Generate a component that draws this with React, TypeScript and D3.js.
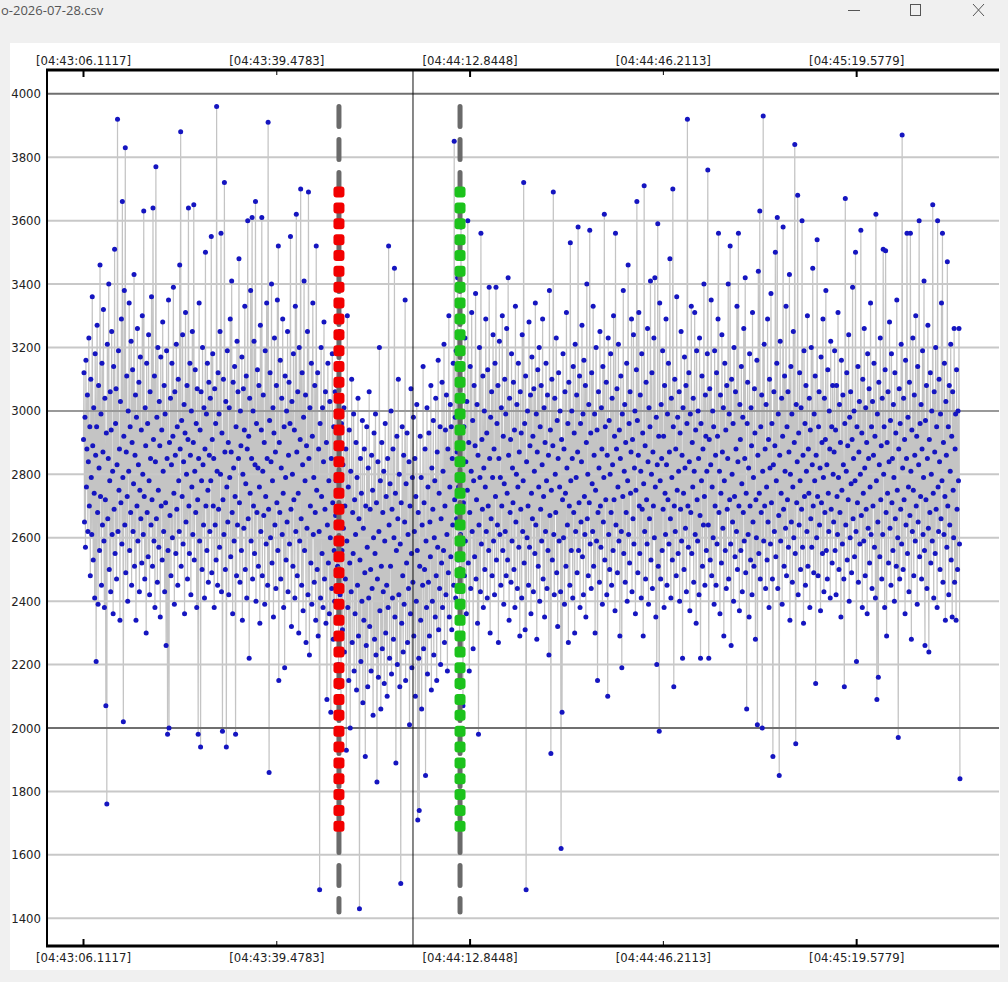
import React from 'react'
import * as d3 from 'd3'

// axis labels as shown on the plot
const tickTimes = ['04:43:06.1117', '04:43:39.4783', '04:44:12.8448', '04:44:46.2113', '04:45:19.5779']
const majorTick = [true, false, true, false, true]
const yTicks = [1400, 1600, 1800, 2000, 2200, 2400, 2600, 2800, 3000, 3200, 3400, 3600, 3800, 4000]

// visible window and sample times
const viewStart = '04:42:59.81'
const viewEnd = '04:45:44.15'
const dataStart = '04:43:06.1117'
const dataEnd = '04:45:37.41'
const redMarkerTime = '04:43:50.21'
const greenMarkerTime = '04:44:11.11'
const cursorTime = '04:44:02.99'
const markerLineTop = 3960
const markerLineBottom = 1420
const markerSquareTop = 3690
const markerSquareBottom = 1690
const markerSquareStep = 50

// samples, left of the red marker
const seg1a = [
  2910, 3120, 2650, 2980, 2570, 3160, 2760, 2880, 3050, 2620, 2840, 3230, 2700, 2950, 2480, 3100, 2790, 2610, 3360, 2890,
  2530, 3010, 2740, 2410, 3180, 2860, 2210, 2950, 3270, 2680, 2390, 3080, 2820, 2560, 3460, 2730, 2990, 2450, 3150, 2640,
  2870, 3320, 2590, 2380, 3040, 2720, 2070, 2930, 1760, 3210, 2660, 2850, 3400, 2500, 2780, 3060, 2430, 2940, 3250, 2610,
  2810, 2360, 3140, 2690, 3510, 2550, 2960, 3070, 2470, 2830, 3920, 2620, 3190, 2750, 2880, 2340, 3030, 2710, 3290, 2580,
  3660, 2790, 2020, 2920, 3380, 2640, 3830, 2490, 2870, 3110, 2730, 2400, 3000, 2810, 3340, 2560, 2950, 2680, 3220, 2450,
  2900, 3130, 2620, 2770, 3430, 2510, 2860, 3050, 2340, 2980, 2700, 3260, 2590, 2830, 3090, 2430, 2750, 3170, 2660, 2940,
  2520, 3300, 2800, 2610, 3630, 2730, 2470, 3010, 2890, 2300, 3150, 2680, 2960, 2540, 3240, 2780, 2420, 3060, 2850, 2640,
  3360, 2720, 2510, 3640, 2910, 2590, 3110, 2380, 2840, 3770, 2660, 2980, 2460, 3200, 2750, 2570, 3030, 2890, 2350, 3170,
  2700, 2940, 2530, 3280, 2810, 2620, 3080, 2430, 2990, 2710, 2260, 3190, 2850, 1980, 2560, 3350, 2000, 2900, 2670, 3040,
  2480, 2830, 3150, 2600, 2920, 3390, 2740, 2390, 3060, 2860, 2550, 3210, 2690, 2950, 2450, 3100, 2780, 2620, 3460, 2880,
  3880, 2510, 2970, 2730, 3240, 2580, 2840, 3020, 2360, 2930, 3310, 2650, 2800, 3080, 2470, 2910, 3640, 2700, 2550, 3150,
  2860, 2420, 3000, 2760, 3250, 2610, 2900, 3650, 2530, 2810, 3130, 2680, 2960, 2380, 3070, 2720, 1980, 2850, 3340, 2590,
  2940, 1940, 3060, 2780, 2500, 3200, 2830, 2640, 3010, 2410, 2880, 3500, 2700, 2990, 2560, 3150, 2750, 2460, 3090, 2860,
]
const seg1b = [
  2620, 3040, 2780, 3550, 2490, 2910, 3180, 2700, 2850, 2380, 3070, 2640, 2960, 2530, 3960, 2810, 2450, 3120, 2690, 2990,
  2570, 3250, 2800, 3560, 2430, 2930, 1990, 2720, 3100, 2610, 3720, 2870, 2500, 3030, 1940, 2760, 3190, 2650, 2900, 2420,
  3010, 2790, 3290, 2540, 2870, 3410, 2680, 2360, 3090, 2820, 2590, 3140, 2730, 1980, 2950, 2480, 3220, 2640, 3060, 2850,
  3480, 2710, 2460, 3000, 2890, 2560, 3170, 2340, 2800, 3070, 2630, 2940, 3330, 2500, 2770, 3110, 2410, 2880, 3600, 2660,
  2920, 2220, 3040, 2740, 3380, 2590, 2850, 3610, 2470, 3000, 2700, 3220, 2550, 2830, 3660, 2400, 2960, 2680, 3130, 2820,
  2510, 3080, 2760, 2330, 3270, 2620, 2940, 3610, 2480, 2810, 3050, 2670, 2900, 2390, 3190, 2730, 2580, 3340, 2850, 2450,
  3910, 2690, 1860, 2970, 3120, 2600, 2840, 3400, 2520, 2780, 3010, 2350, 2930, 3230, 2640, 2870, 2440, 3080, 2710, 3350,
  2560, 3520, 2150, 2900, 2680, 3160, 2470, 2820, 3040, 2610, 3290, 2740, 2380, 2950, 2190, 3110, 2790, 2530, 3000, 2650,
  3250, 2430, 2860, 3090, 2580, 2960, 3550, 2690, 2320, 3030, 2800, 2510, 3180, 2720, 2940, 2410, 3330, 2620, 3620, 2870,
  2480, 3060, 2740, 2300, 3200, 2590, 2910, 3700, 2660, 2450, 3120, 2830, 2370, 2980, 3410, 2560, 2780, 3050, 2270, 2890,
  2630, 3250, 2420, 3690, 2850, 2230, 3010, 2700, 2520, 3150, 2390, 2920, 3340, 2610, 2790, 2460, 3080, 2680, 2340, 3520,
  2750, 2500, 3120, 2290, 2880, 2620, 1490, 2960, 2410, 3200, 2730, 2550, 3010, 2380, 2840, 3280, 2470, 2690, 3060, 2330,
  2900, 2090, 2640, 3150, 2520, 2780, 2360, 3030, 2600, 2050, 2850, 2440, 3180, 2710, 2280, 2950, 2560, 2400, 3060, 2670,
]
// samples between the markers
const seg2 = [
  2780, 2350, 3080, 2510, 2890, 2200, 2650, 3250, 2420, 2740, 2090, 2960, 2560, 2310, 2830, 2630, 3010, 2240, 2700, 2470,
  2880, 1930, 2590, 3300, 2380, 2760, 2150, 2940, 2520, 2000, 2810, 2430, 3100, 2270, 2680, 2550, 2990, 2180, 2720, 2360,
  2610, 2900, 2120, 2790, 2450, 3040, 2290, 2660, 1430, 2530, 2850, 2210, 2740, 2400, 2970, 2080, 2630, 2340, 2880, 2490,
  1910, 2700, 2260, 2950, 2570, 2130, 2820, 2410, 3060, 2320, 2690, 2500, 2180, 2860, 2440, 2750, 2040, 2600, 2930, 2280,
  2550, 2990, 2230, 2710, 1830, 2470, 2840, 2160, 2620, 3200, 2370, 2780, 2060, 2510, 2900, 2250, 2680, 2430, 2810, 2140,
  2590, 2960, 2300, 2730, 2450, 2100, 2850, 2380, 3520, 2640, 2220, 2770, 2510, 3000, 2170, 2690, 2410, 2880, 2280, 2600,
  3450, 2350, 2740, 1890, 2560, 2920, 2200, 2660, 3100, 2420, 2800, 2130, 2580, 1510, 2710, 2330, 2950, 2480, 2240, 2860,
  2390, 2650, 3350, 2150, 2770, 2520, 2930, 2270, 2610, 2440, 2840, 2010, 2700, 2360, 3070, 2550, 2190, 2790, 2460, 2980,
  2290, 2620, 2850, 2100, 2730, 2400, 3020, 2560, 1710, 2680, 2220, 1740, 2510, 2920, 2340, 2790, 2060, 2640, 2450, 3140,
  2250, 2710, 2500, 2880, 1850, 2590, 2380, 3010, 2170, 2760, 2460, 2930, 2290, 2650, 2540, 3080, 2120, 2820, 2400, 2690,
  2970, 2230, 2600, 2780, 2350, 3040, 2480, 2150, 2870, 2570, 3160, 2310, 2740, 2440, 2950, 2200, 2660, 2520, 3090, 2380,
  2810, 2560, 3210, 2270, 2700, 2940, 2420, 3050, 2610, 2180, 2880, 2490, 3300, 2350, 2760, 3020, 2540, 2950, 2310, 2850,
  2640, 3150, 2450, 3850, 2720,
]
// samples right of the green marker
const seg3a = [
  2980, 2410, 3190, 2660, 2870, 3420, 2530, 2760, 3050, 2290, 2940, 2610, 3580, 2400, 2830, 3100, 2070, 2710, 2950, 2480,
  3230, 2590, 2840, 2360, 3030, 2750, 3600, 2520, 2900, 2180, 2680, 3140, 2440, 2810, 3310, 2620, 2970, 2250, 2780, 3080,
  2540, 2890, 3370, 2470, 2720, 3020, 2330, 2860, 1980, 2640, 3200, 2790, 2430, 3560, 2580, 2910, 2690, 3110, 2380, 2820,
  3000, 2500, 2760, 3290, 2620, 2930, 2410, 3130, 2700, 2560, 3390, 2850, 2300, 2980, 2660, 3060, 2480, 2790, 3240, 2590,
  2880, 2420, 3150, 2730, 3390, 2530, 2960, 2640, 3080, 2270, 2850, 3220, 2610, 2790, 2450, 3010, 2700, 3300, 2560, 2920,
  2390, 2770, 3100, 2620, 2990, 2480, 3260, 2740, 2530, 3420, 2860, 2340, 3040, 2680, 2910, 2460, 3180, 2590, 2820, 2710,
  3090, 2500, 2940, 2380, 3330, 2650, 2800, 3020, 2440, 2760, 3150, 2570, 2870, 2290, 3060, 2690, 2930, 2410, 3240, 2620,
  2780, 3720, 2520, 2960, 2310, 3110, 1490, 2840, 2600, 3000, 2700, 2450, 3280, 2570, 2890, 3050, 2360, 2740, 3170, 2660,
  2920, 2430, 3070, 2810, 2550, 3340, 2640, 2990, 2280, 2870, 3130, 2510, 2760, 3200, 2400, 2950, 2690, 3080, 2590, 2830,
  3290, 2470, 2730, 3010, 2350, 2900, 2620, 3150, 2780, 2440, 3050, 2560, 2860, 2230, 3380, 2670, 2940, 1920, 2750, 3100,
  2530, 2890, 3690, 2610, 2420, 3040, 2800, 2680, 3230, 2490, 2970, 2320, 2850, 3120, 2590, 2760, 3000, 2430, 1620, 2910,
  2050, 2720, 3180, 2600, 2880, 2390, 3060, 2740, 2510, 3310, 2820, 2640, 2960, 2270, 3090, 2700, 2450, 3530, 2780, 2560,
  3000, 2850, 2410, 3140, 2680, 2930, 2300, 3210, 2620, 2790, 3050, 2490, 2870, 3580, 2560, 2710, 3110, 2380, 2960, 2650,
]
const seg3b = [
  2840, 3270, 2540, 2990, 2420, 3160, 2730, 2610, 3080, 2350, 2900, 3400, 2660, 2800, 2480, 3020, 2710, 3570, 2580, 2930,
  2440, 3120, 2770, 2620, 3330, 2510, 2860, 2990, 2300, 2750, 3200, 2590, 2940, 2150, 2680, 3060, 2820, 2460, 3250, 2700,
  2570, 3010, 2880, 2390, 3140, 2650, 2790, 3620, 2530, 2950, 2720, 3090, 2420, 2860, 2100, 3230, 2610, 2970, 2500, 2800,
  3180, 2680, 2450, 3040, 2830, 2560, 3300, 2720, 2920, 2370, 3560, 2640, 2880, 3070, 2490, 2760, 3210, 2590, 2940, 2290,
  2850, 3110, 2620, 2190, 2990, 2730, 3380, 2550, 2810, 3020, 2460, 2900, 2680, 3150, 2400, 2780, 3460, 2610, 2960, 2520,
  3060, 2740, 2870, 3290, 2430, 2910, 2660, 3240, 2580, 2820, 3000, 2360, 2750, 3130, 3660, 2970, 2490, 2860, 3310, 2700,
  2550, 3050, 2810, 2410, 3180, 2690, 2930, 2290, 2770, 3710, 2620, 2890, 2470, 3090, 2720, 2580, 3260, 2840, 2390, 3010,
  2660, 2950, 3410, 2530, 2800, 3120, 2440, 2870, 2700, 3230, 2600, 3420, 2760, 2350, 2980, 2200, 2830, 3590, 2510, 2920,
  1990, 3340, 2780, 2470, 3020, 2850, 2560, 3190, 2690, 2920, 2380, 3080, 2740, 2610, 3290, 2830, 2450, 2990, 2720, 3150,
  2580, 2870, 3480, 2660, 2410, 3040, 2790, 2530, 3700, 2950, 2130, 2700, 3100, 2620, 2880, 2480, 3360, 2750, 2980, 2550,
  2810, 3060, 2400, 2930, 2690, 3250, 2590, 2860, 2220, 3010, 2740, 2500, 3170, 2820, 2630, 3080, 2430, 2960, 3920, 2700,
  2570, 3120, 2840, 2370, 2990, 2680, 3330, 2550, 2900, 2760, 3040, 2460, 2810, 3310, 2610, 2940, 2330, 3190, 2720, 2590,
  3000, 2850, 2420, 3230, 2670, 2220, 2960, 2780, 3110, 2510, 2880, 2640, 3400, 2730, 2450, 3050, 2920, 2560, 2810, 3180,
]
const seg3c = [
  3760, 2640, 2220, 2910, 3070, 2530, 2830, 3350, 2480, 2760, 3000, 2600, 2950, 2390, 3190, 2700, 2860, 2450, 3120, 2580,
  2920, 3290, 3560, 2680, 2810, 2360, 3050, 2740, 2520, 3240, 2870, 2630, 3010, 2290, 2780, 3150, 2560, 2940, 2440, 3080,
  2690, 2850, 3400, 2470, 2990, 2720, 3520, 2580, 2260, 3100, 2800, 2650, 2960, 2400, 3200, 2730, 2540, 3060, 2880, 2620,
  3330, 2500, 2840, 3560, 2700, 2370, 3020, 2910, 2560, 3140, 2770, 2430, 2980, 2680, 3260, 2590, 2850, 3420, 2490, 2740,
  2060, 2960, 3090, 2610, 2820, 2350, 3180, 2700, 2530, 3010, 2890, 2420, 3310, 2650, 2790, 2510, 3070, 2930, 2280, 2720,
  2600, 3160, 2010, 2860, 3440, 2550, 2740, 3630, 2470, 2950, 2680, 3050, 2000, 2810, 3930, 2590, 3210, 2700, 2880, 2440,
  3020, 2760, 2530, 3290, 2650, 2910, 2380, 3100, 2820, 2580, 3370, 2710, 2960, 2470, 1910, 2830, 3060, 2620, 2890, 3500,
  2540, 2780, 3150, 3610, 2440, 2990, 2670, 1850, 2860, 3220, 2590, 2740, 3040, 2390, 2920, 3580, 2690, 2510, 3110, 2810,
  2630, 3330, 2480, 2950, 2720, 3060, 2570, 2870, 3430, 2340, 2800, 3140, 2650, 2990, 2460, 2760, 3250, 2600, 2900, 3840,
  2550, 1950, 3020, 2710, 2840, 3680, 2420, 2930, 2640, 3120, 2780, 2500, 3010, 2690, 3600, 2570, 2860, 2330, 3190, 2730,
  2960, 2450, 3080, 2810, 2620, 3300, 2510, 2880, 2740, 3040, 2380, 2940, 2660, 3200, 2570, 2830, 3450, 2700, 2490, 2990,
  2780, 3110, 2140, 2860, 2600, 3540, 2730, 2480, 2950, 3060, 2640, 2820, 2370, 3170, 2710, 2900, 2550, 3290, 2790, 2430,
  3040, 2680, 2910, 3380, 2560, 2830, 2470, 3130, 2740, 2620, 3000, 2880, 2410, 3220, 2690, 2950, 2520, 3080, 2800, 2650,
]
const seg3d = [
  2870, 3190, 2560, 2940, 2420, 3080, 2730, 2610, 3310, 2790, 2500, 3020, 2680, 2900, 2350, 3160, 2750, 2580, 3050, 2830,
  2470, 2130, 2960, 3670, 2640, 2810, 3120, 2530, 2890, 2720, 3240, 2400, 2980, 2600, 3060, 2770, 2490, 2910, 3390, 2660,
  2850, 3000, 2540, 2780, 3500, 2620, 2210, 2950, 2710, 3140, 2460, 2870, 3030, 2580, 2800, 3570, 2670, 2930, 2380, 3100,
  2740, 2590, 3260, 2820, 2480, 3010, 2690, 2900, 2360, 3180, 2630, 2850, 3070, 2520, 2760, 3340, 2610, 2950, 2440, 3030,
  2700, 2860, 3150, 2570, 2920, 2410, 3620, 2780, 2090, 2990, 2650, 2160, 3090, 2830, 2540, 3230, 2720, 2890, 2470, 3040,
  2610, 3510, 2800, 2950, 2380, 3130, 3505, 2680, 2290, 2900, 2740, 3060, 2520, 2840, 3280, 2630, 2970, 2450, 3180, 2710,
  2850, 2560, 3020, 2790, 2400, 3120, 2660, 2930, 2510, 3350, 2750, 2600, 1970, 2880, 3070, 2470, 2960, 2690, 3210, 2580,
  3870, 2820, 2500, 3040, 2720, 2910, 2360, 3160, 2640, 2850, 3560, 2550, 2980, 2760, 2430, 3090, 2670, 3560, 2810, 2280,
  2940, 2620, 3230, 2750, 2480, 3050, 2860, 2590, 3300, 2700, 2920, 2390, 3140, 2650, 2830, 3600, 2540, 2960, 2730, 3020,
  2470, 2880, 3190, 2610, 2790, 3410, 2560, 2260, 2970, 2720, 3080, 2440, 2850, 3270, 2630, 2240, 2910, 2680, 3120, 2520,
  2800, 3000, 2590, 3650, 2740, 2410, 3060, 2870, 2550, 3200, 2690, 2950, 2380, 3600, 2760, 2620, 3100, 2840, 2500, 2990,
  2660, 3340, 2780, 3560, 2460, 2900, 2610, 3150, 2730, 2340, 3030, 2860, 2570, 3470, 2700, 2950, 2420, 3080, 2640, 2810,
  3210, 2530, 2920, 2350, 3060, 2750, 2600, 3260, 2460, 2880, 2990, 2340, 3130, 2690, 2500, 3000, 2780, 3260, 2580, 1840,
]

const W = 1008
const H = 982
const FONT = "'DejaVu Sans Condensed', 'DejaVu Sans', sans-serif"

function toSeconds(t: string): number {
  const [h, m, s] = t.split(':')
  return +h * 3600 + +m * 60 + +s
}

export default function App(): React.ReactElement {
  const values = [...seg1a, ...seg1b, ...seg2, ...seg3a, ...seg3b, ...seg3c, ...seg3d]
  const t0 = toSeconds(dataStart)
  const t1 = toSeconds(dataEnd)
  const step = (t1 - t0) / (values.length - 1)
  const points = values.map((v, i) => ({ t: t0 + i * step, v }))

  const plot = { left: 47, right: 999, top: 70, bottom: 946 }

  const x = d3
    .scaleLinear()
    .domain([toSeconds(viewStart), toSeconds(viewEnd)])
    .range([plot.left, plot.right])

  const y = d3.scaleLinear().domain([1312.6, 4075]).range([plot.bottom, plot.top])

  const line = d3
    .line<{ t: number; v: number }>()
    .x((d) => x(d.t))
    .y((d) => y(d.v))

  const gridColor = (v: number) => (v === 4000 || v === 2000 ? '#6f6f6f' : v === 3000 ? '#999999' : '#c8c8c8')

  const squares = d3.range(markerSquareBottom, markerSquareTop + 1, markerSquareStep)
  const markers = [
    { t: redMarkerTime, color: '#f20000' },
    { t: greenMarkerTime, color: '#1cc21c' },
  ]

  return (
    <svg
      width={W}
      height={H}
      viewBox={`0 0 ${W} ${H}`}
      style={{ position: 'absolute', left: 0, top: 0, fontFamily: FONT }}
    >
      {/* window chrome */}
      <rect x={0} y={0} width={W} height={H} fill="#f0f0f0" />
      <text x={1} y={15} fontSize={13} fill="#555" fontFamily="'Open Sans', sans-serif">
        o-2026-07-28.csv
      </text>
      <g stroke="#555" strokeWidth={1} fill="none">
        <line x1={848} x2={860} y1={10.5} y2={10.5} />
        <rect x={910.5} y={4.5} width={10} height={11} />
        <line x1={973} x2={984} y1={4} y2={16} />
        <line x1={984} x2={973} y1={4} y2={16} />
      </g>
      <rect x={10} y={43} width={990} height={927} fill="#ffffff" />

      <defs>
        <clipPath id="plot-clip">
          <rect x={plot.left} y={plot.top} width={plot.right - plot.left} height={plot.bottom - plot.top} />
        </clipPath>
      </defs>

      <g clipPath="url(#plot-clip)">
        <path d={line(points) ?? ''} fill="none" stroke="#c4c4c4" strokeWidth={1.2} />

        {yTicks.map((v) => (
          <line
            key={v}
            x1={plot.left}
            x2={plot.right}
            y1={y(v)}
            y2={y(v)}
            stroke={gridColor(v)}
            strokeWidth={2}
          />
        ))}

        <g fill="#1515c0">
          {points.map((d, i) => (
            <circle key={i} cx={x(d.t)} cy={y(d.v)} r={2.5} />
          ))}
        </g>

        <line
          x1={x(toSeconds(cursorTime))}
          x2={x(toSeconds(cursorTime))}
          y1={plot.top}
          y2={plot.bottom}
          stroke="#111"
          strokeWidth={1}
        />

        {markers.map((m) => {
          const mx = x(toSeconds(m.t))
          return (
            <g key={m.t}>
              <line
                x1={mx}
                x2={mx}
                y1={y(markerLineTop)}
                y2={y(markerLineBottom)}
                stroke="#6a6a6a"
                strokeWidth={5}
                strokeDasharray="20 13"
                strokeLinecap="round"
              />
              {squares.map((v) => (
                <rect key={v} x={mx - 5.5} y={y(v) - 5.5} width={11} height={11} rx={3} fill={m.color} />
              ))}
            </g>
          )
        })}
      </g>

      {/* axes */}
      <line x1={plot.left - 1} x2={plot.right} y1={plot.top} y2={plot.top} stroke="#000" strokeWidth={3} />
      <line x1={plot.left - 1} x2={plot.right} y1={plot.bottom} y2={plot.bottom} stroke="#000" strokeWidth={3} />
      <line x1={plot.left} x2={plot.left} y1={plot.top} y2={plot.bottom} stroke="#000" strokeWidth={2} />

      {tickTimes.map((t, i) => {
        const tx = x(toSeconds(t))
        const len = majorTick[i] ? 7 : 5
        const sw = majorTick[i] ? 2 : 1
        return (
          <g key={t}>
            <line x1={tx} x2={tx} y1={plot.top} y2={plot.top + len} stroke="#000" strokeWidth={sw} />
            <line x1={tx} x2={tx} y1={plot.bottom} y2={plot.bottom - len} stroke="#000" strokeWidth={sw} />
            <text x={tx} y={65} textAnchor="middle" fontSize={13} fill="#222">
              [{t}]
            </text>
            <text x={tx} y={962} textAnchor="middle" fontSize={13} fill="#222">
              [{t}]
            </text>
          </g>
        )
      })}

      {yTicks.map((v) => (
        <text key={v} x={41} y={y(v)} dy="0.35em" textAnchor="end" fontSize={13} fill="#222">
          {v}
        </text>
      ))}
    </svg>
  )
}
